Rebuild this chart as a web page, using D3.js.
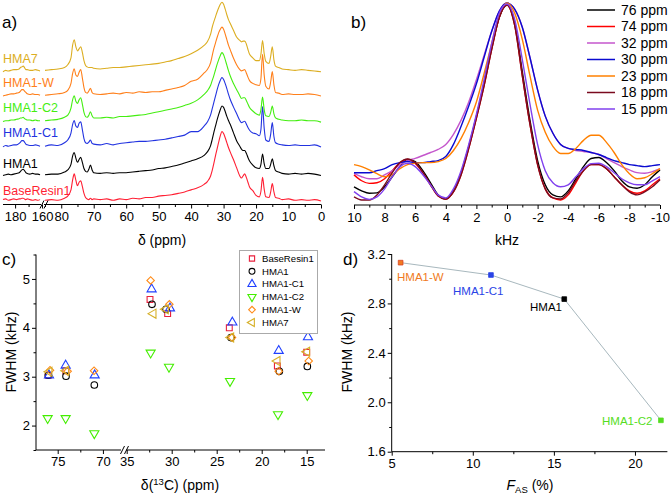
<!DOCTYPE html>
<html><head><meta charset="utf-8">
<script src="https://cdn.jsdelivr.net/npm/d3@7"></script>
<style>body{margin:0;background:#fff}svg{display:block}</style>
</head><body>
<svg id="c" width="671" height="497"></svg>
<script>
// ---------- Panel a: 13C spectra ----------
const specNames = ["BaseResin1","HMA1","HMA1-C1","HMA1-C2","HMA1-W","HMA7"];
const specColors = ["#ff1f33","#000000","#2233e0","#44ee11","#ff7f1a","#dcae22"];
const specOffsets = [0, 0.367, 0.778, 1.135, 1.512, 1.86];
const mainPpm = [85,83,81,79,78,77,76.5,76,75.5,75,74.5,74,73.5,73,72.5,72,71.5,71,70.5,70,68,66,64,62,60,58,56,54,52,50,48,46,44,42,40,38,36,35,34,33.5,33,32.5,32,31.5,31,30.5,30,29.5,29,28.5,28,27,26,25,24.5,24,23.5,23,22.5,22,21,20,19,18.5,18,17.5,17,16,15.5,15,14.5,14,13,12,10,8,6,4,2,0];
const specBaseResin1 = [0.01,0.02,0.01,0.04,0.07,0.16,0.3,0.39,0.3,0.22, 0.27,0.29,0.21,0.11,0.05,0.03,0.02,0.04,0.02,0.03, 0.02,0.03,0.01,0.03,0.02,0.04,0.03,0.05,0.05,0.07, 0.08,0.09,0.11,0.13,0.16,0.19,0.24,0.28,0.36,0.44, 0.54,0.65,0.75,0.85,0.94,1.0,0.97,0.91,0.84,0.77, 0.71,0.6,0.48,0.36,0.33,0.36,0.39,0.34,0.27,0.2, 0.15,0.08,0.06,0.14,0.34,0.17,0.06,0.05,0.13,0.25, 0.13,0.05,0.04,0.02,0.03,0.01,0.02,0.01,0.02,0.0];
const specHMA1 = [0.01,0.02,0.02,0.05,0.08,0.16,0.28,0.33,0.25,0.19, 0.23,0.26,0.19,0.1,0.06,0.05,0.09,0.15,0.08,0.04, 0.03,0.04,0.03,0.04,0.04,0.05,0.06,0.07,0.08,0.1, 0.11,0.13,0.15,0.18,0.21,0.24,0.29,0.34,0.43,0.52, 0.62,0.71,0.8,0.88,0.95,1.0,0.98,0.92,0.85,0.79, 0.74,0.62,0.5,0.42,0.38,0.36,0.36,0.32,0.26,0.21, 0.15,0.11,0.1,0.16,0.31,0.17,0.1,0.1,0.16,0.24, 0.14,0.07,0.05,0.03,0.02,0.03,0.02,0.03,0.02,0.0];
const specHMA1C1 = [0.01,0.03,0.02,0.06,0.1,0.2,0.32,0.38,0.3,0.28, 0.34,0.36,0.25,0.12,0.06,0.05,0.07,0.1,0.05,0.04, 0.03,0.05,0.03,0.05,0.06,0.07,0.08,0.08,0.09,0.1, 0.11,0.13,0.15,0.17,0.22,0.22,0.3,0.36,0.46,0.55, 0.64,0.73,0.82,0.9,0.96,1.0,0.97,0.91,0.84,0.76, 0.69,0.58,0.48,0.38,0.35,0.36,0.37,0.33,0.28,0.24, 0.2,0.19,0.16,0.25,0.58,0.27,0.1,0.08,0.18,0.35, 0.15,0.06,0.04,0.03,0.02,0.03,0.02,0.02,0.03,0.0];
const specHMA1C2 = [0.02,0.03,0.04,0.07,0.1,0.2,0.32,0.38,0.3,0.27, 0.32,0.35,0.26,0.14,0.08,0.07,0.1,0.15,0.09,0.06, 0.06,0.07,0.06,0.08,0.08,0.09,0.1,0.11,0.13,0.15, 0.17,0.19,0.21,0.24,0.27,0.32,0.4,0.45,0.53,0.6, 0.67,0.75,0.83,0.9,0.96,1.0,0.97,0.9,0.82,0.74, 0.67,0.56,0.47,0.38,0.34,0.35,0.35,0.31,0.26,0.21, 0.16,0.12,0.1,0.18,0.36,0.18,0.09,0.08,0.14,0.23, 0.12,0.06,0.04,0.03,0.02,0.02,0.03,0.02,0.02,0.0];
const specHMA1W = [0.01,0.02,0.03,0.05,0.08,0.18,0.32,0.39,0.3,0.28, 0.34,0.38,0.26,0.12,0.05,0.04,0.07,0.11,0.05,0.03, 0.02,0.03,0.04,0.03,0.05,0.04,0.06,0.05,0.06,0.06, 0.08,0.1,0.12,0.15,0.21,0.24,0.33,0.38,0.48,0.58, 0.68,0.76,0.84,0.91,0.96,0.99,0.96,0.89,0.81,0.73, 0.67,0.55,0.45,0.38,0.36,0.37,0.38,0.33,0.27,0.22, 0.18,0.16,0.15,0.25,0.6,0.3,0.14,0.1,0.2,0.35, 0.16,0.05,0.04,0.02,0.03,0.02,0.02,0.03,0.02,0.0];
const specHMA7 = [0.02,0.03,0.04,0.06,0.1,0.2,0.38,0.46,0.36,0.3, 0.33,0.36,0.28,0.16,0.09,0.07,0.06,0.06,0.06,0.05, 0.04,0.05,0.06,0.06,0.07,0.08,0.09,0.1,0.11,0.12, 0.14,0.16,0.19,0.22,0.26,0.31,0.38,0.43,0.54,0.64, 0.72,0.79,0.86,0.92,0.97,1.0,0.97,0.9,0.82,0.75, 0.7,0.6,0.5,0.45,0.43,0.44,0.44,0.4,0.32,0.25, 0.2,0.16,0.16,0.25,0.45,0.26,0.15,0.12,0.22,0.36, 0.17,0.08,0.06,0.04,0.03,0.02,0.03,0.02,0.01,0.0];
const leftPpm = [189,187,185,183,181,179,177,176,175,174,173,172,171,169,167,165,163,161.5];
const leftBaseResin1 = [0.02,0.03,0.01,0.02,0.03,0.02,0.03,0.03,0.04,0.04,0.03,0.02,0.03,0.02,0.01,0.02,0.01,0.02];
const leftHMA1 = [0.0,0.01,0.02,0.01,0.02,0.03,0.04,0.06,0.08,0.09,0.07,0.04,0.03,0.02,0.03,0.02,0.02,0.01];
const leftHMA1C1 = [0.0,0.02,0.01,0.02,0.03,0.03,0.05,0.07,0.09,0.09,0.07,0.04,0.03,0.02,0.02,0.03,0.02,0.01];
const leftHMA1C2 = [0.01,0.02,0.02,0.03,0.03,0.04,0.05,0.06,0.06,0.07,0.05,0.04,0.03,0.03,0.02,0.03,0.02,0.02];
const leftHMA1W = [0.0,0.01,0.02,0.03,0.03,0.04,0.05,0.07,0.09,0.09,0.07,0.05,0.03,0.02,0.03,0.02,0.02,0.01];
const leftHMA7 = [0.0,0.02,0.01,0.02,0.03,0.03,0.04,0.06,0.07,0.08,0.06,0.03,0.03,0.02,0.02,0.03,0.02,0.01];
const specMain = [specBaseResin1,specHMA1,specHMA1C1,specHMA1C2,specHMA1W,specHMA7];
const specLeft = [leftBaseResin1,leftHMA1,leftHMA1C1,leftHMA1C2,leftHMA1W,leftHMA7];
const aTicksMain = [80,70,60,50,40,30,20,10,0];
const aMinorMain = [85,75,65,55,45,35,25,15,5];
const aTicksLeft = [180,160];

// ---------- Panel b: slices ----------
const khz = [10,9.5,9,8.5,8,7.5,7,6.5,6,5.5,5,4.5,4,3.5,3,2.5,2,1.5,1,0.5,0,-0.5,-1,-1.5,-2,-2.5,-3,-3.5,-4,-4.5,-5,-5.5,-6,-6.5,-7,-7.5,-8,-8.5,-9,-9.5,-10];
const sliceNames = ["76 ppm","74 ppm","32 ppm","30 ppm","23 ppm","18 ppm","15 ppm"];
const sliceColors = ["#000000","#ff0000","#c456cc","#0a0ad0","#ff8000","#7a0a1e","#8040ee"];
const slice76 = [0.09,0.07,0.058,0.06,0.09,0.14,0.19,0.226,0.215,0.17,0.11,0.05,0.03,0.07,0.16,0.29,0.44,0.6,0.78,0.93,0.99,0.9,0.66,0.42,0.22,0.1,0.05,0.04,0.07,0.13,0.19,0.23,0.235,0.21,0.17,0.12,0.09,0.083,0.1,0.14,0.174];
const slice74 = [0.149,0.12,0.107,0.11,0.13,0.17,0.21,0.226,0.205,0.16,0.1,0.045,0.03,0.065,0.15,0.28,0.43,0.59,0.77,0.93,0.99,0.89,0.64,0.4,0.2,0.08,0.035,0.025,0.05,0.11,0.17,0.2,0.2,0.18,0.14,0.1,0.07,0.058,0.07,0.1,0.13];
const slice32 = [0.157,0.14,0.13,0.13,0.149,0.17,0.2,0.22,0.231,0.245,0.26,0.275,0.3,0.35,0.42,0.51,0.62,0.74,0.86,0.96,1.0,0.97,0.88,0.73,0.57,0.44,0.355,0.3,0.28,0.27,0.265,0.26,0.25,0.23,0.21,0.19,0.174,0.16,0.157,0.165,0.18];
const slice30 = [0.16,0.16,0.16,0.17,0.18,0.2,0.21,0.215,0.21,0.21,0.215,0.22,0.24,0.3,0.39,0.49,0.6,0.73,0.86,0.96,1.0,0.97,0.88,0.73,0.57,0.44,0.355,0.3,0.28,0.275,0.27,0.26,0.25,0.235,0.22,0.21,0.2,0.195,0.19,0.195,0.2];
const slice23 = [0.2,0.19,0.174,0.155,0.14,0.15,0.18,0.2,0.207,0.21,0.21,0.215,0.23,0.27,0.33,0.41,0.51,0.65,0.8,0.94,1.0,0.95,0.82,0.64,0.47,0.36,0.29,0.255,0.255,0.28,0.32,0.345,0.345,0.31,0.26,0.2,0.155,0.13,0.135,0.155,0.18];
const slice18 = [0.04,0.025,0.025,0.05,0.1,0.16,0.21,0.228,0.21,0.16,0.1,0.045,0.03,0.065,0.15,0.28,0.43,0.59,0.77,0.93,0.99,0.89,0.64,0.4,0.2,0.08,0.035,0.03,0.06,0.12,0.17,0.2,0.2,0.18,0.14,0.1,0.065,0.05,0.065,0.09,0.125];
const slice15 = [0.066,0.04,0.028,0.04,0.08,0.14,0.19,0.207,0.19,0.15,0.1,0.05,0.035,0.08,0.17,0.3,0.45,0.62,0.8,0.95,0.995,0.92,0.72,0.5,0.3,0.17,0.11,0.09,0.1,0.14,0.18,0.205,0.207,0.19,0.16,0.13,0.11,0.1,0.1,0.12,0.14];
const slices = [slice76,slice74,slice32,slice30,slice23,slice18,slice15];
const bTicks = [10,8,6,4,2,0,-2,-4,-6,-8,-10];
const bMinor = [9,7,5,3,1,-1,-3,-5,-7,-9];

// ---------- Panel c: FWHM vs shift ----------
const cNames = ["BaseResin1","HMA1","HMA1-C1","HMA1-C2","HMA1-W","HMA7"];
const cColors = ["#e8203c","#000000","#2040ff","#44ee00","#ff8c1a","#d6b028"];
const cPpmBaseResin1 = [76.04,74.1,32.41,30.45,23.6,18.26,15.0];
const cFwhmBaseResin1 = [3.03,3.12,4.58,4.29,4.0,3.22,3.5];
const cPpmHMA1 = [76.04,74.08,70.95,32.19,30.63,23.41,18.04,14.93];
const cFwhmHMA1 = [3.03,3.01,2.83,4.48,4.38,3.8,3.11,3.21];
const cPpmHMA1C1 = [75.96,74.12,70.91,32.23,30.19,23.26,18.11,14.86];
const cFwhmHMA1C1 = [3.03,3.23,3.03,4.79,4.4,4.11,3.53,3.81];
const cPpmHMA1C2 = [76.11,74.12,70.95,32.34,30.3,23.52,18.19,14.93];
const cFwhmHMA1C2 = [2.15,2.15,1.84,3.49,3.2,2.91,2.23,2.62];
const cPpmHMA1W = [75.85,73.9,70.98,32.34,30.26,23.3,18.11,14.78];
const cFwhmHMA1W = [3.13,3.11,3.12,4.97,4.48,3.8,3.11,3.32];
const cPpmHMA7 = [75.93,74.08,32.04,30.67,23.41,18.26,14.97];
const cFwhmHMA7 = [3.1,3.12,4.29,4.38,3.8,3.32,3.51];
const cPpm = [cPpmBaseResin1,cPpmHMA1,cPpmHMA1C1,cPpmHMA1C2,cPpmHMA1W,cPpmHMA7];
const cFwhm = [cFwhmBaseResin1,cFwhmHMA1,cFwhmHMA1C1,cFwhmHMA1C2,cFwhmHMA1W,cFwhmHMA7];
const cTicksL = [75,70], cMinorL = [72.5];
const cTicksR = [35,30,25,20,15], cMinorR = [32.5,27.5,22.5,17.5];
const cTicksY = [2,3,4,5], cMinorY = [1.5,2.5,3.5,4.5,5.5];

// ---------- Panel d: FWHM vs F_AS ----------
const dNames = ["HMA1-W","HMA1-C1","HMA1","HMA1-C2"];
const dFas = [5.55,11.12,15.64,21.6];
const dFwhm = [3.13,3.03,2.835,1.854];
const dColors = ["#f07a22","#2a44e6","#000000","#55dd22"];
const dTicksX = [5,10,15,20], dMinorX = [7.5,12.5,17.5];
const dTicksY = [1.6,2.0,2.4,2.8,3.2], dMinorY = [1.8,2.2,2.6,3.0];

// ================= drawing =================
const FONT = "'Liberation Sans', Arial, sans-serif";
const svg = d3.select("#c").style("font-family", FONT);

function axisG(gen, tx, ty, fs){
  const g = svg.append("g").attr("transform", `translate(${tx},${ty})`).call(gen);
  g.select(".domain").remove();
  g.selectAll("line").attr("stroke","#000").attr("stroke-width",1);
  g.selectAll("text").attr("font-size",fs).attr("font-family",FONT).attr("fill","#000");
  return g;
}
function hline(x0,x1,y){ svg.append("line").attr("x1",x0).attr("x2",x1).attr("y1",y).attr("y2",y).attr("stroke","#000").attr("stroke-width",1); }
function vline(x,y0,y1){ svg.append("line").attr("x1",x).attr("x2",x).attr("y1",y0).attr("y2",y1).attr("stroke","#000").attr("stroke-width",1); }
function brk(x,y){
  [0,4].forEach(d=>svg.append("line").attr("x1",x+d-2).attr("y1",y+4).attr("x2",x+d+2).attr("y2",y-4).attr("stroke","#000").attr("stroke-width",1));
}
const fmtPlain = d => String(d);

// ---- Panel a
const xaMain = d3.scaleLinear().domain([85,0]).range([45,321]);
const xaLeft = d3.scaleLinear().domain([189,161.5]).range([3,40]);
const ya = d3.scaleLinear().domain([0,1]).range([201,131.5]);
const axY = 204.5;
specMain.forEach((arr,i)=>{
  const ln = d3.line().x((d,j)=>xaMain(mainPpm[j])).y(d=>ya(specOffsets[i]+d)).curve(d3.curveMonotoneX);
  svg.append("path").attr("d", ln(arr)).attr("fill","none").attr("stroke",specColors[i]).attr("stroke-width",1.1);
  const ll = d3.line().x((d,j)=>xaLeft(leftPpm[j])).y(d=>ya(specOffsets[i]+d)).curve(d3.curveMonotoneX);
  svg.append("path").attr("d", ll(specLeft[i])).attr("fill","none").attr("stroke",specColors[i]).attr("stroke-width",1.1);
});
const aLabelY = [195,168,137,112,87,63];
specNames.forEach((n,i)=>svg.append("text").attr("x",3).attr("y",aLabelY[i]).attr("font-size",12.5).attr("fill",specColors[i]).text(n));
hline(3,41,axY); hline(44,321,axY); brk(42,axY);
axisG(d3.axisBottom(xaMain).tickValues(aTicksMain).tickSize(4).tickPadding(3.5).tickFormat(fmtPlain),0,axY,13);
axisG(d3.axisBottom(xaMain).tickValues(aMinorMain).tickSize(2.5).tickFormat(""),0,axY,13);
axisG(d3.axisBottom(xaLeft).tickValues(aTicksLeft).tickSize(4).tickPadding(3.5).tickFormat(fmtPlain),0,axY,13);
axisG(d3.axisBottom(xaLeft).tickValues([170]).tickSize(2.5).tickFormat(""),0,axY,13);
svg.append("text").attr("x",162).attr("y",245).attr("text-anchor","middle").attr("font-size",14).text("δ (ppm)");
svg.append("text").attr("x",2).attr("y",28).attr("font-size",17).text("a)");

// ---- Panel b
const xb = d3.scaleLinear().domain([10,-10]).range([354,660]);
const yb = d3.scaleLinear().domain([0,1]).range([205,3]);
slices.forEach((arr,i)=>{
  const ln = d3.line().x((d,j)=>xb(khz[j])).y(d=>yb(d)).curve(d3.curveMonotoneX);
  svg.append("path").attr("d",ln(arr)).attr("fill","none").attr("stroke",sliceColors[i]).attr("stroke-width",1.4);
});
hline(354,660,205);
axisG(d3.axisBottom(xb).tickValues(bTicks).tickSize(4).tickPadding(3.5).tickFormat(fmtPlain),0,205,13);
axisG(d3.axisBottom(xb).tickValues(bMinor).tickSize(2.5).tickFormat(""),0,205,13);
svg.append("text").attr("x",507).attr("y",245).attr("text-anchor","middle").attr("font-size",14).text("kHz");
svg.append("text").attr("x",351).attr("y",28).attr("font-size",17).text("b)");
sliceNames.forEach((n,i)=>{
  const y = 10 + i*16.5;
  svg.append("line").attr("x1",587).attr("x2",615).attr("y1",y).attr("y2",y).attr("stroke",sliceColors[i]).attr("stroke-width",1.5);
  svg.append("text").attr("x",621).attr("y",y).attr("dy","0.35em").attr("font-size",14).text(n);
});

// ---- Panel c
const xcL = d3.scaleLinear().domain([77.4,68]).range([36,121]);
const xcR = d3.scaleLinear().domain([35.3,13]).range([124,324.7]);
const yc = d3.scaleLinear().domain([1.5,5.5]).range([450,254.5]);
const cY0 = 450;
hline(36,121,cY0); hline(126,325,cY0); vline(36,254.5,cY0); brk(122.5,cY0);
axisG(d3.axisBottom(xcL).tickValues(cTicksL).tickSize(4).tickPadding(3).tickFormat(fmtPlain),0,cY0,13);
axisG(d3.axisBottom(xcL).tickValues(cMinorL).tickSize(2.5).tickFormat(""),0,cY0,13);
axisG(d3.axisBottom(xcR).tickValues(cTicksR).tickSize(4).tickPadding(3).tickFormat(fmtPlain),0,cY0,13);
axisG(d3.axisBottom(xcR).tickValues(cMinorR).tickSize(2.5).tickFormat(""),0,cY0,13);
axisG(d3.axisLeft(yc).tickValues(cTicksY).tickSize(4).tickPadding(2).tickFormat(fmtPlain),36,0,13);
axisG(d3.axisLeft(yc).tickValues(cMinorY).tickSize(2.5).tickFormat(""),36,0,13);
const symFor = [
  {t:d3.symbolSquare, r:0, s:34},
  {t:d3.symbolCircle, r:0, s:34},
  {t:d3.symbolTriangle, r:0, s:36},
  {t:d3.symbolTriangle, r:180, s:36},
  {t:d3.symbolSquare, r:45, s:28},
  {t:d3.symbolTriangle, r:-90, s:36}
];
const xc = p => p > 50 ? xcL(p) : xcR(p);
cPpm.forEach((arr,i)=>{
  const sy = symFor[i];
  const path = d3.symbol().type(sy.t).size(sy.s)();
  arr.forEach((p,j)=>{
    svg.append("path").attr("d",path)
      .attr("transform",`translate(${xc(p)},${yc(cFwhm[i][j])}) rotate(${sy.r})`)
      .attr("fill","none").attr("stroke",cColors[i]).attr("stroke-width",1.1);
  });
});
// legend
svg.append("rect").attr("x",239.5).attr("y",250.5).attr("width",78).attr("height",83).attr("fill","#fff").attr("stroke","#aaa").attr("stroke-width",1);
cNames.forEach((n,i)=>{
  const y = 258.5 + i*12.8;
  const sy = symFor[i];
  svg.append("path").attr("d",d3.symbol().type(sy.t).size(sy.s*0.8)())
    .attr("transform",`translate(252,${y}) rotate(${sy.r})`)
    .attr("fill","none").attr("stroke",cColors[i]).attr("stroke-width",1.1);
  svg.append("text").attr("x",262).attr("y",y).attr("dy","0.35em").attr("font-size",9.6).text(n);
});
svg.append("text").attr("transform","translate(11,352) rotate(-90)").attr("dy","0.35em").attr("text-anchor","middle").attr("font-size",14).text("FWHM (kHz)");
const cxt = svg.append("text").attr("x",180).attr("y",490).attr("text-anchor","middle").attr("font-size",14);
cxt.append("tspan").text("δ(");
cxt.append("tspan").attr("font-size",9.5).attr("dy",-5).text("13");
cxt.append("tspan").attr("dy",5).text("C) (ppm)");
svg.append("text").attr("x",2).attr("y",265).attr("font-size",17).text("c)");

// ---- Panel d
const xd = d3.scaleLinear().domain([5,22]).range([391.7,667.4]);
const yd = d3.scaleLinear().domain([1.6,3.2]).range([451.7,254]);
hline(391.7,667.4,451.7); vline(391.7,254,451.7);
axisG(d3.axisBottom(xd).tickValues(dTicksX).tickSize(4).tickPadding(3).tickFormat(fmtPlain),0,451.7,13);
axisG(d3.axisBottom(xd).tickValues(dMinorX).tickSize(2.5).tickFormat(""),0,451.7,13);
axisG(d3.axisLeft(yd).tickValues(dTicksY).tickSize(4).tickPadding(2).tickFormat(d3.format(".1f")),391.7,0,13);
axisG(d3.axisLeft(yd).tickValues(dMinorY).tickSize(2.5).tickFormat(""),391.7,0,13);
svg.append("path").attr("d", d3.line().x((d,j)=>xd(dFas[j])).y(d=>yd(d))(dFwhm))
  .attr("fill","none").attr("stroke","#a8b8be").attr("stroke-width",1);
dFas.forEach((f,j)=>{
  svg.append("path").attr("d",d3.symbol().type(d3.symbolSquare).size(22)())
    .attr("transform",`translate(${xd(f)},${yd(dFwhm[j])})`)
    .attr("fill",dColors[j]).attr("stroke",j===0?"#d94020":dColors[j]).attr("stroke-width",0.8);
});
const dLabX = [397,453,530,602], dLabY = [281,295,311,425];
dNames.forEach((n,j)=>svg.append("text").attr("x",dLabX[j]).attr("y",dLabY[j]).attr("font-size",11.5).attr("fill",dColors[j]).text(n));
svg.append("text").attr("transform","translate(347,352) rotate(-90)").attr("dy","0.35em").attr("text-anchor","middle").attr("font-size",14).text("FWHM (kHz)");
const dxt = svg.append("text").attr("x",530).attr("y",490).attr("text-anchor","middle").attr("font-size",14);
dxt.append("tspan").attr("font-style","italic").text("F");
dxt.append("tspan").attr("font-size",9.5).attr("dy",3).text("AS");
dxt.append("tspan").attr("dy",-3).text(" (%)");
svg.append("text").attr("x",343).attr("y",265).attr("font-size",17).text("d)");
</script>
</body></html>
